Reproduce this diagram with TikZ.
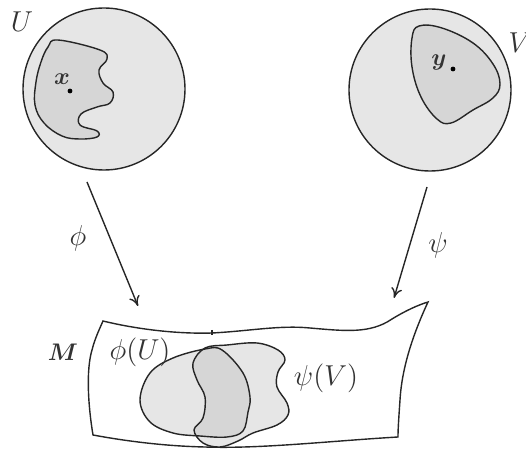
\documentclass[tikz,border=0pt]{standalone}
\usepackage{amsmath,amssymb,bm}
\usetikzlibrary{arrows.meta}
\definecolor{chartfill}{HTML}{E6E6E6}
\definecolor{setfill}{HTML}{D6D6D6}
\definecolor{labelink}{HTML}{333333}
\begin{document}
\begin{tikzpicture}[x=0.5pt,y=-0.5pt,
  outline/.style={draw=black!85,line width=0.7pt},
  ball/.style={circle,outline,fill=chartfill,inner sep=0pt,minimum size=81pt},
  lbl/.style={text=labelink,inner sep=0pt,font=\fontsize{13.5}{16}\selectfont},
  smalllbl/.style={text=labelink,inner sep=0pt,font=\fontsize{12.5}{15}\selectfont},
  maparrow/.style={draw=black!85,line width=0.7pt,-{To[length=5pt,width=5.5pt]}},
  pt/.style={circle,fill=black,inner sep=0pt,minimum size=2.4pt}]
\useasboundingbox (0,0) rectangle (526,449);

% coordinate charts U and V
\node[ball] (ballU) at (104,89) {};
\node[ball] (ballV) at (430,90) {};

% open subsets inside the charts
\draw[outline,fill=setfill] plot[smooth cycle,tension=0.65] coordinates {
  (58,40) (100,50) (107,59) (99,70) (103,83) (113,92) (110,103)
  (97,107) (81,114) (80,125) (97,131) (97,137) (80,139) (62,136)
  (44,123) (35,105) (36,82) (41,62) (48,47)};
\draw[outline,fill=setfill] plot[smooth cycle,tension=0.65] coordinates {
  (419,26) (442,28) (473,43) (493,64) (500,84) (493,98) (473,110)
  (451,123) (437,119) (421,97) (412,67) (412,38)};

\node[pt] (x) at (70,91) {};
\node[pt] (y) at (453,69) {};
\node[smalllbl] (xl) at (62,79) {$\bm{x}$};
\node[smalllbl] (yl) at (439,63) {$\bm{y}$};
\node[lbl] (Ul) at (22,22) {$U$};
\node[lbl] (Vl) at (520,43) {$V$};

% the manifold sheet
\draw[outline,fill=white] (103,321)
  .. controls (140,330) and (180,334) .. (212,333)
  .. controls (250,331) and (280,325) .. (310,328)
  .. controls (345,331) and (370,334) .. (392,319)
  .. controls (405,311) and (418,305) .. (428,302)
  .. controls (415,330) and (402,365) .. (400,400)
  .. controls (399,415) and (398,428) .. (398,437)
  .. controls (330,441) and (260,449) .. (205,447)
  .. controls (160,446) and (120,440) .. (93,435)
  .. controls (88,405) and (86,370) .. (92,350)
  .. controls (95,338) and (100,328) .. (103,321) -- cycle;
\draw[black!85,line width=0.7pt] (212,330) -- (212,335);
\node[smalllbl] (Ml) at (63,352) {$\bm{M}$};

% images of the open sets and their overlap
\def\phiU{plot[smooth cycle,tension=0.6] coordinates {
  (205,349) (173,358) (150,373) (140,400) (150,422) (173,433)
  (200,436) (227,437) (243,431) (248,412) (250,397) (243,373) (222,350)}}
\def\psiV{plot[smooth cycle,tension=0.6] coordinates {
  (205,348) (227,345) (257,343) (278,350) (285,360) (278,372)
  (277,387) (287,403) (288,415) (277,425) (253,433) (238,441)
  (220,447) (203,443) (194,430) (203,418) (205,397) (197,380) (193,363)}}
\fill[chartfill] \phiU;
\fill[chartfill] \psiV;
\begin{scope}
  \clip \phiU;
  \fill[setfill] \psiV;
\end{scope}
\draw[outline] \phiU;
\draw[outline] \psiV;
\node[lbl] (phiUl) at (140,352) {$\phi(U)$};
\node[lbl] (psiVl) at (326,378) {$\psi(V)$};

% the chart maps
\coordinate (phistart) at (87,182);
\coordinate (phiend) at (138,306);
\coordinate (psistart) at (427,187);
\coordinate (psiend) at (394,298);
\draw[maparrow] (phistart) -- (phiend);
\draw[maparrow] (psistart) -- (psiend);
\node[lbl] (phil) at (78,238) {$\phi$};
\node[lbl] (psil) at (438,245) {$\psi$};
\end{tikzpicture}
\end{document}
